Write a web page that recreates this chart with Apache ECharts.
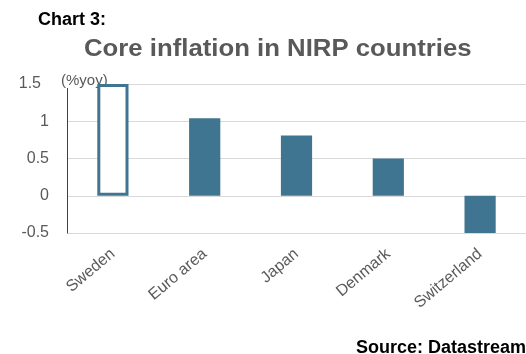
<!DOCTYPE html>
<html>
<head>
<meta charset="utf-8">
<script src="https://cdn.jsdelivr.net/npm/echarts@6/dist/echarts.min.js"></script>
<style>
	html, body { margin: 0; padding: 0; background: #fff; }
	#chart { width: 526px; height: 354px; }
</style>
</head>
<body>
<div id="chart"></div>
<script>
// data
var countries = ['Sweden', 'Euro area', 'Japan', 'Denmark', 'Switzerland'];
var coreInflation = [1.5, 1.04, 0.81, 0.5, -0.5];
var hollowBars = ['Sweden'];

var barColor = '#3f7590';
var grey = '#595959';

var chart = echarts.init(document.getElementById('chart'));

var seriesData = countries.map(function (c, i) {
	if (hollowBars.indexOf(c) >= 0) {
		return {
			value: coreInflation[i],
			itemStyle: { color: '#fff', borderColor: barColor, borderWidth: 3 }
		};
	}
	return { value: coreInflation[i] };
});

var option = {
	animation: false,
	grid: { left: 67, right: 0, top: 84, bottom: 121 },
	graphic: [
		{ type: 'text', left: 38, top: 11,
			style: { text: 'Chart 3:', font: 'bold 18px "Liberation Sans", Arial', fill: '#000' } },
		{ type: 'text', x: 84, y: 38, scaleX: 1.17, scaleY: 1.05,
			style: { text: 'Core inflation in NIRP countries', font: 'bold 22px "Liberation Sans", Arial', fill: grey } },
		// label box hides the axis line and grid line behind it, bars still draw on top
		{ type: 'text', left: 60, top: 73, z: 1,
			style: { text: '(%yoy)', font: '15px "Liberation Sans", Arial', fill: grey,
				backgroundColor: '#fff', padding: [0, 1, 0, 1] } },
		{ type: 'text', left: 356, top: 339,
			style: { text: 'Source: Datastream', font: 'bold 18px "Liberation Sans", Arial', fill: '#000' } }
	],
	xAxis: {
		type: 'category',
		data: countries,
		axisLine: { show: false },
		axisTick: { show: false },
		axisLabel: { rotate: 40, color: grey, fontSize: 16, fontFamily: '"Liberation Sans", Arial', margin: 19 }
	},
	yAxis: {
		type: 'value',
		min: -0.5,
		max: 1.5,
		interval: 0.5,
		z: 0,
		axisLine: { show: true, lineStyle: { color: '#404040', width: 1 } },
		axisTick: { show: false },
		axisLabel: {
			color: grey, fontSize: 16, fontFamily: '"Liberation Sans", Arial', margin: 18,
			formatter: function (v) { return v === 1.5 ? '{top|' + v + '}' : String(v); },
			rich: { top: { fontSize: 16, color: grey, padding: [0, 8, 0, 0] } }
		},
		splitLine: { lineStyle: { color: '#d9d9d9' } }
	},
	series: [{
		type: 'bar',
		z: 2,
		data: seriesData,
		barWidth: '34%',
		itemStyle: { color: barColor }
	}]
};

chart.setOption(option);
</script>
</body>
</html>
